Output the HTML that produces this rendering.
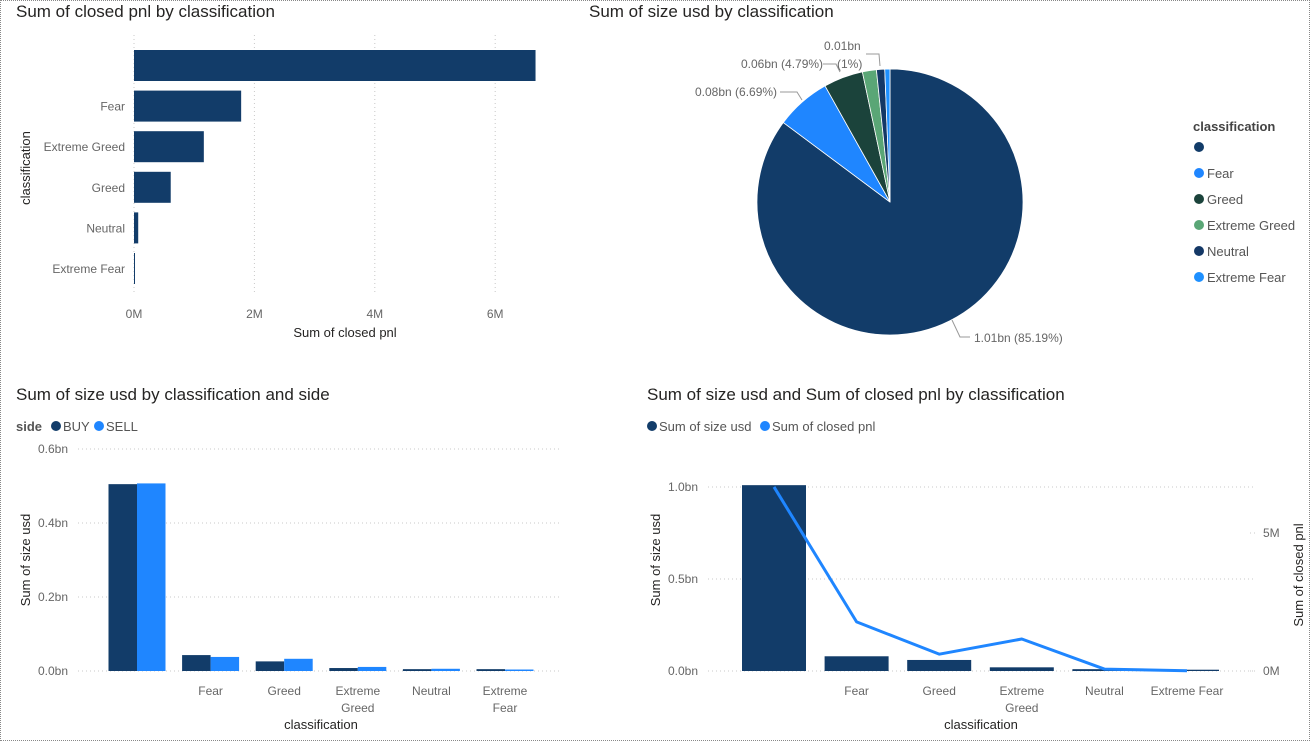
<!DOCTYPE html>
<html><head><meta charset="utf-8"><style>
body{margin:0;width:1310px;height:741px;background:#fff;overflow:hidden;font-family:"Liberation Sans",sans-serif}
#frame{position:absolute;left:0;top:0;width:1308px;height:739px;border:1px dotted #888}
svg text{font-family:"Liberation Sans",sans-serif}
</style></head><body>
<div id="frame"></div>
<svg id="s" width="1310" height="741" style="position:absolute;left:0;top:0"></svg>
<script>
// Chart 1: closed pnl by classification (M)
const c1Cats = ["", "Fear", "Extreme Greed", "Greed", "Neutral", "Extreme Fear"];
const c1Vals = [6.67, 1.78, 1.16, 0.61, 0.07, 0.01];
const c1Ticks = [0, 2, 4, 6];
// Chart 2: pie size usd (bn)
const pieCats = ["", "Fear", "Greed", "Extreme Greed", "Neutral", "Extreme Fear"];
const pieVals = [85.19, 6.69, 4.79, 1.7, 1.0, 0.63];
const pieLabels = ["1.01bn (85.19%)", "0.08bn (6.69%)", "0.06bn (4.79%)", "", "0.01bn (1%)", ""];
// Chart 3: size usd by classification and side (bn)
const c3Cats = ["", "Fear", "Greed", "Extreme|Greed", "Neutral", "Extreme|Fear"];
const c3Buy = [0.505, 0.043, 0.026, 0.008, 0.005, 0.005];
const c3Sell = [0.507, 0.038, 0.033, 0.011, 0.006, 0.004];
const c3Ticks = [0, 0.2, 0.4, 0.6];
// Chart 4: combo
const c4Cats = ["", "Fear", "Greed", "Extreme|Greed", "Neutral", "Extreme Fear"];
const c4Size = [1.01, 0.08, 0.06, 0.02, 0.01, 0.007];
const c4Pnl = [6.67, 1.78, 0.61, 1.16, 0.07, 0.01];
const c4LTicks = [0, 0.5, 1.0];
const c4RTicks = [0, 5];

const S = document.getElementById('s');
const NS = 'http://www.w3.org/2000/svg';
function el(tag, attrs, parent){const e=document.createElementNS(NS,tag);for(const k in attrs)e.setAttribute(k,attrs[k]);(parent||S).appendChild(e);return e;}
function txt(x,y,s,attrs,parent){const t=el('text',Object.assign({x:x,y:y},attrs),parent);t.textContent=s;return t;}
const DARK='#123c69', BLUE='#1f86ff', GRID='#c8c8c8', TICK='#666';
const TFS=17;

// ---------- Chart 1 ----------
let g=el('g',{});


let t=txt(16,17,'Sum of closed pnl by classification',{'font-size':TFS,fill:'#252423'},g);


const x1=v=>134+v*60.2;
c1Ticks.forEach(v=>{
  el('line',{x1:x1(v),x2:x1(v),y1:35,y2:295,stroke:GRID,'stroke-dasharray':'1 3'},g);
  const tl=txt(x1(v),318,v+'M',{'font-size':12,fill:TICK,'text-anchor':'middle'},g);
  
  
});
c1Cats.forEach((c,i)=>{
  const y=50+i*40.6;
  const b=el('rect',{x:134,y:y,width:Math.max(1,x1(c1Vals[i])-134),height:31,fill:DARK},g);
  
  
  const l=txt(125,y+20,c,{'font-size':12,fill:TICK,'text-anchor':'end'},g);
  
  
});
t=txt(345,337,'Sum of closed pnl',{'font-size':13,fill:'#252423','text-anchor':'middle'},g);


t=txt(0,0,'classification',{'font-size':13,fill:'#252423','text-anchor':'middle',transform:'translate(30,168) rotate(-90)'},g);



// ---------- Chart 2: pie ----------
g=el('g',{});


t=txt(589,17,'Sum of size usd by classification',{'font-size':TFS,fill:'#252423'},g);


const pieCols=[DARK,BLUE,'#1b433b','#5aa676','#143866','#1e90ff'];
const cx=890, cy=202, R=133;
const tot=pieVals.reduce((a,b)=>a+b,0);
let a0=0;
pieVals.forEach((v,i)=>{
  const a1=a0+v/tot*2*Math.PI;
  const p=a=>[cx+R*Math.sin(a),cy-R*Math.cos(a)];
  const [sx,sy]=p(a0),[ex,ey]=p(a1);
  const sl=el('path',{d:`M${cx},${cy}L${sx},${sy}A${R},${R} 0 ${a1-a0>Math.PI?1:0} 1 ${ex},${ey}Z`,fill:pieCols[i],stroke:'#fff','stroke-width':0.8},g);
  
  
  a0=a1;
});
const lbl=(s,x,y,lx1,ly1,lx2,ly2,lx3,ly3)=>{
  el('polyline',{points:`${lx1},${ly1} ${lx2},${ly2} ${lx3},${ly3}`,fill:'none',stroke:'#999'},g);
  const tt=txt(x,y,s,{'font-size':12,fill:TICK},g);
  
  
};
lbl(pieLabels[0],974,342,952,320,960,337,970,337);
lbl(pieLabels[1],695,96,780,92,797,92,802,100);
lbl(pieLabels[2],741,68,823,64,836,64,840,72);
lbl('0.01bn',824,50,866,54,879,54,880,66);
t=txt(837,68,'(1%)',{'font-size':12,fill:TICK},g);


t=txt(1193,131,'classification',{'font-size':13,'font-weight':'bold',fill:'#444'},g);


pieCats.forEach((c,i)=>{
  const y=147+i*26;
  const lg=el('g',{},g);
  
  
  el('circle',{cx:1199,cy:y,r:5,fill:pieCols[i]},lg);
  txt(1207,y+5,c,{'font-size':13,fill:'#555'},lg);
});

// ---------- Chart 3 ----------
g=el('g',{});


t=txt(16,400,'Sum of size usd by classification and side',{'font-size':TFS,fill:'#252423'},g);


t=txt(16,431,'side',{'font-size':13,'font-weight':'bold',fill:'#555'},g);


[['BUY',DARK,56],['SELL',BLUE,99]].forEach(([n,c,x])=>{
  const lg=el('g',{},g);
  
  
  el('circle',{cx:x,cy:426,r:5,fill:c},lg);
  txt(x+7,431,n,{'font-size':13,fill:'#555'},lg);
});
const y3=v=>671-v*370;
c3Ticks.forEach(v=>{
  el('line',{x1:78,x2:560,y1:y3(v),y2:y3(v),stroke:GRID,'stroke-dasharray':'1 3'},g);
  const tl=txt(68,y3(v)+4,v.toFixed(1)+'bn',{'font-size':12,fill:TICK,'text-anchor':'end'},g);
  
  
});
c3Cats.forEach((c,i)=>{
  const cxp=137+i*73.6;
  const b1=el('rect',{x:cxp-28.5,y:y3(c3Buy[i]),width:28.5,height:671-y3(c3Buy[i]),fill:DARK},g);
  
  
  const b2=el('rect',{x:cxp,y:y3(c3Sell[i]),width:28.5,height:671-y3(c3Sell[i]),fill:BLUE},g);
  
  
  c.split('|').forEach((p,j)=>{
    const tl=txt(cxp,695+j*17,p,{'font-size':12,fill:TICK,'text-anchor':'middle'},g);
    
    
  });
});
t=txt(321,729,'classification',{'font-size':13,fill:'#252423','text-anchor':'middle'},g);


t=txt(0,0,'Sum of size usd',{'font-size':13,fill:'#252423','text-anchor':'middle',transform:'translate(30,560) rotate(-90)'},g);



// ---------- Chart 4 ----------
g=el('g',{});


t=txt(647,400,'Sum of size usd and Sum of closed pnl by classification',{'font-size':TFS,fill:'#252423'},g);


[['Sum of size usd',DARK,652],['Sum of closed pnl',BLUE,765]].forEach(([n,c,x])=>{
  const lg=el('g',{},g);
  
  
  el('circle',{cx:x,cy:426,r:5,fill:c},lg);
  txt(x+7,431,n,{'font-size':13,fill:'#555'},lg);
});
const y4=v=>671-v*184, y4r=v=>671-v*27.6, x4=i=>774+i*82.6;
c4LTicks.forEach(v=>{
  el('line',{x1:708,x2:1253,y1:y4(v),y2:y4(v),stroke:GRID,'stroke-dasharray':'1 3'},g);
  const tl=txt(698,y4(v)+4,v.toFixed(1)+'bn',{'font-size':12,fill:TICK,'text-anchor':'end'},g);
  
  
});
c4RTicks.forEach(v=>{
  el('line',{x1:1250,x2:1255,y1:y4r(v),y2:y4r(v),stroke:GRID,'stroke-dasharray':'1 3'},g);
  const tl=txt(1263,y4r(v)+4,v+'M',{'font-size':12,fill:TICK},g);
  
  
});
c4Cats.forEach((c,i)=>{
  const b=el('rect',{x:x4(i)-32,y:y4(c4Size[i]),width:64,height:671-y4(c4Size[i]),fill:DARK},g);
  
  
  c.split('|').forEach((p,j)=>{
    const tl=txt(x4(i),695+j*17,p,{'font-size':12,fill:TICK,'text-anchor':'middle'},g);
    
    
  });
});
const ln=el('polyline',{points:c4Pnl.map((v,i)=>x4(i)+','+y4r(v)).join(' '),fill:'none',stroke:BLUE,'stroke-width':3,'stroke-linejoin':'round'},g);


t=txt(981,729,'classification',{'font-size':13,fill:'#252423','text-anchor':'middle'},g);


t=txt(0,0,'Sum of size usd',{'font-size':13,fill:'#252423','text-anchor':'middle',transform:'translate(660,560) rotate(-90)'},g);


t=txt(0,0,'Sum of closed pnl',{'font-size':13,fill:'#252423','text-anchor':'middle',transform:'translate(1303,575) rotate(-90)'},g);


</script>
</body></html>
